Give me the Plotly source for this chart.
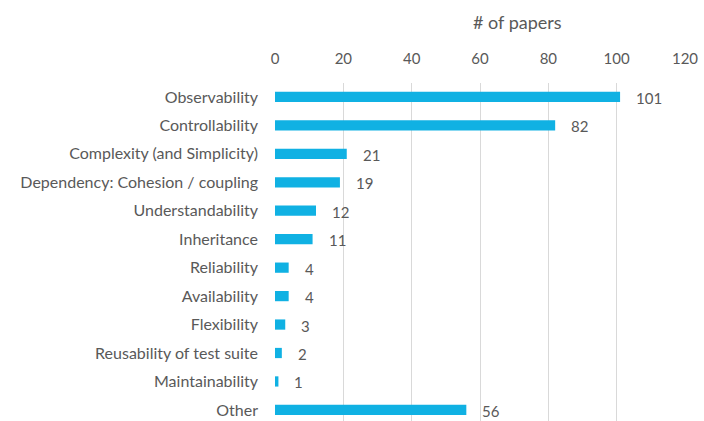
import plotly.graph_objects as go

categories = ["Observability", "Controllability", "Complexity (and Simplicity)",
              "Dependency: Cohesion / coupling", "Understandability", "Inheritance",
              "Reliability", "Availability", "Flexibility", "Reusability of test suite",
              "Maintainability", "Other"]
values = [101, 82, 21, 19, 12, 11, 4, 4, 3, 2, 1, 56]
x_ticks = [0, 20, 40, 60, 80, 100, 120]

font_family = "Lato, 'Open Sans', sans-serif"
gray = "#595959"

fig = go.Figure()
fig.add_trace(go.Bar(
    y=categories, x=values, orientation="h",
    marker=dict(color="#10B1E3", line=dict(width=0)),
    width=0.36,
))
for c, v in zip(categories, values):
    fig.add_annotation(x=v, y=c, text=str(v), xanchor="left", yanchor="middle",
                       xshift=14, yshift=-1, showarrow=False,
                       font=dict(family=font_family, size=15, color=gray))

fig.add_annotation(x=517, y=22, xref="x domain", yref="paper", text="# of papers",
                   showarrow=False, xanchor="center", yanchor="middle",
                   font=dict(family=font_family, size=18, color=gray))
# reposition title via pixel-based paper coords
fig.layout.annotations[-1].update(xref="paper", x=(517 - 275) / 410,
                                  y=1 + (83 - 22) / 338)

fig.update_layout(
    width=704, height=421,
    margin=dict(l=275, r=19, t=83, b=0),
    plot_bgcolor="white", paper_bgcolor="white",
    showlegend=False,
    font=dict(family=font_family, color=gray),
    xaxis=dict(side="top", range=[0, 120], tickvals=x_ticks, showgrid=True,
               gridcolor="#D9D9D9", gridwidth=1, zeroline=False, showline=False,
               tickfont=dict(size=15, color=gray), ticklabelstandoff=15),
    yaxis=dict(categoryorder="array", categoryarray=categories,
               range=[11.39, -0.49], showgrid=False, zeroline=False, showline=False,
               tickfont=dict(size=16, color=gray), ticklabelstandoff=16, ticks=""),
)
fig.write_html("out.html")
